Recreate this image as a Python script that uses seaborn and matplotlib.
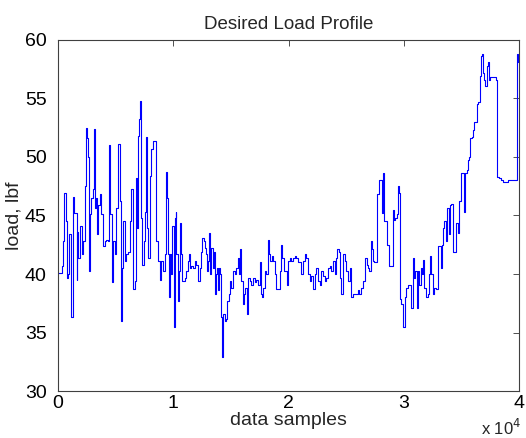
"""Desired load profile (step trace) recreated with seaborn."""
import matplotlib

matplotlib.use("Agg")
import matplotlib.pyplot as plt
import pandas as pd
import seaborn as sns
from matplotlib.ticker import FixedLocator, FuncFormatter

# sample index where each load step starts
samples = [
    0, 317, 404, 520, 664, 751, 895, 981, 1097, 1270, 1328, 1415, 1617, 1674, 1761,
    1905, 2050, 2194, 2338, 2425, 2483, 2569, 2627, 2714, 2771, 2916, 3060, 3147,
    3204, 3349, 3407, 3493, 3637, 3782, 3926, 4071, 4215, 4359, 4446, 4561, 4706,
    4792, 4937, 5081, 5225, 5370, 5456, 5572, 5659, 5803, 5947, 6091, 6236, 6380,
    6525, 6669, 6755, 6871, 6958, 7044, 7131, 7246, 7333, 7448, 7535, 7622, 7737,
    7824, 7968, 8113, 8257, 8488, 8546, 8690, 8834, 8979, 9123, 9267, 9412, 9498,
    9556, 9643, 9758, 9845, 9932, 10047, 10134, 10221, 10278, 10423, 10509, 10567,
    10711, 10798, 10999, 11144, 11288, 11375, 11490, 11577, 11721, 11866, 12010,
    12154, 12299, 12443, 12530, 12645, 12761, 12876, 12934, 13021, 13107,
    13163, 13307, 13452, 13510, 13596, 13683, 13798, 13885, 13971, 14087, 14174,
    14260, 14318, 14462, 14607, 14693, 14837, 14895, 15040, 15184, 15328, 15473,
    15617, 15704, 15761, 15906, 16050, 16137, 16252, 16397, 16483, 16628, 16772,
    16916, 17061, 17205, 17349, 17494, 17580, 17667, 17782, 17927, 18071, 18215,
    18302, 18417, 18562, 18648, 18793, 18937, 19081, 19226, 19370, 19457, 19572,
    19745, 19861, 19948, 20092, 20236, 20381, 20525, 20669, 20814, 20958, 21102,
    21247, 21391, 21535, 21680, 21824, 21969, 22113, 22257, 22402, 22546, 22690,
    22835, 22979, 23123, 23268, 23412, 23556, 23701, 23845, 23989, 24134, 24220,
    24365, 24480, 24567, 24711, 24856, 25000, 25144, 25289, 25433, 25577, 25722,
    25866, 26010, 26155, 26299, 26443, 26588, 26674, 26790, 26905,
    27019, 27163, 27250, 27366, 27452, 27654, 27741, 27885, 28030, 28116, 28174,
    28261, 28405, 28520, 28694, 28896, 29040, 29184, 29271, 29386, 29473, 29560,
    29675, 29791, 29906, 29964, 30079, 30195, 30339, 30484, 30628, 30772, 30830,
    30917, 31003, 31119, 31234, 31350, 31494, 31581, 31696, 31783, 31927, 32071,
    32216, 32274, 32389, 32504, 32649, 32793, 32937, 33082, 33226, 33313, 33371,
    33515, 33659, 33746, 33890, 34006, 34121, 34237, 34381, 34525, 34670, 34814,
    34958, 35103, 35247, 35334, 35449, 35593, 35680, 35767, 35882, 35969, 36113,
    36258, 36344, 36460, 36604, 36720, 36777, 36864, 36979, 37066, 37210, 37326,
    37412, 37499, 37701, 37990, 38047, 38221, 38423, 38625, 38798, 39000, 39289,
    39578, 39722, 39780, 39837, 39924, 40000,
]

load_lbf = [
    40.1, 40.7, 42.8, 46.9, 44.5, 39.7, 40.0, 43.4, 36.3, 40.5, 46.6, 45.2, 39.5, 43.6, 41.4,
    44.1, 41.7, 42.8, 47.5, 49.3, 52.5, 51.6, 50.0, 40.3, 45.1, 46.5, 47.3, 52.4,
    45.6, 46.5, 43.4, 45.9, 46.8, 45.1, 42.4, 42.8, 42.9, 42.8, 51.0, 45.1, 39.3,
    42.8, 41.7, 45.6, 51.1, 46.2, 36.0, 40.5, 44.5, 41.1, 41.7, 41.9, 44.5, 47.3,
    38.7, 39.4, 48.2, 43.9, 51.8, 53.2, 54.8, 44.8, 40.8, 42.8, 45.3, 51.7, 43.9,
    41.4, 48.4, 50.7, 51.4, 51.4, 42.8, 41.1, 39.5, 41.1, 40.3, 41.7, 48.7, 46.5,
    41.7, 38.0, 41.7, 40.0, 44.1, 35.5, 44.8, 45.3, 41.7, 37.7, 40.3, 44.4,
    41.7, 39.4, 39.7, 40.3, 41.1, 41.7, 40.5, 40.7, 40.5, 41.1, 40.8,
    39.4, 40.5, 41.9, 43.1, 42.8, 42.2, 41.7, 40.3, 41.1, 43.5,
    40.0, 42.2, 40.5, 41.9, 38.3, 40.0, 40.5, 38.6, 40.5, 40.0, 36.3,
    32.9, 36.6, 36.0, 36.2, 37.7, 38.3, 39.4, 38.8, 40.3, 40.0, 40.5,
    41.4, 40.0, 42.1, 39.4, 37.4, 38.3, 38.8, 36.6, 39.7, 39.4, 39.1,
    39.7, 39.3, 39.5, 39.1, 41.0, 38.3, 38.0, 38.8, 40.3, 40.0, 42.9,
    41.7, 41.1, 41.5, 41.1, 40.0, 38.7, 38.7, 40.3, 42.5, 41.4, 40.3,
    40.3, 39.1, 41.1, 41.4, 41.1, 41.4, 41.5, 41.4, 41.0, 41.0, 40.0,
    41.1, 41.7, 41.4, 40.0, 39.4, 39.8, 38.7, 40.0, 40.5, 39.4, 39.1,
    40.3, 39.8, 39.4, 39.7, 40.5, 40.7, 40.3, 41.1, 40.0, 41.4, 42.1,
    41.9, 39.7, 38.3, 41.7, 41.1, 40.3, 39.4, 40.5, 38.0, 38.3, 38.3,
    38.3, 38.6, 38.3, 38.8, 39.4, 39.4, 41.4, 40.8, 40.5,
    40.3, 42.8, 42.1, 41.1, 41.0, 46.8, 46.8, 48.0, 48.0, 45.2, 48.6,
    44.5, 44.5, 42.5, 40.7, 40.7, 45.5, 44.6, 44.8, 45.1, 47.5, 46.9,
    37.9, 37.4, 36.6, 35.5, 38.0, 38.8, 39.1, 39.1, 37.1, 40.0, 41.4,
    39.7, 40.3, 37.1, 40.3, 39.1, 40.5, 40.0, 41.2, 38.8, 38.0, 38.3,
    40.0, 41.5, 40.0, 38.3, 38.8, 38.7, 42.4, 42.4, 40.5, 42.5, 43.9,
    44.5, 42.8, 45.6, 43.4, 45.9, 46.0, 41.9, 41.9, 44.4, 43.5, 46.2,
    48.6, 48.6, 45.3, 48.6, 48.9, 49.7, 50.0, 51.6, 51.7, 52.3, 53.0,
    53.0, 54.5, 54.7, 56.9, 58.6, 58.8, 57.2, 56.6, 56.1, 57.8, 58.1,
    56.6, 56.8, 56.8, 56.6, 48.3, 48.2, 48.0, 47.9, 47.9, 48.0, 48.0,
    48.0, 48.0, 50.0, 58.8, 58.1, 58.1,
]

x_ticks = [0, 10000, 20000, 30000, 40000]
y_ticks = [30, 35, 40, 45, 50, 55, 60]

sns.set_style("white")
plt.rcParams["font.family"] = ["Liberation Sans", "DejaVu Sans"]

df = pd.DataFrame({"sample": samples, "load": load_lbf})

fig = plt.figure(figsize=(5.26, 4.38), dpi=100)
ax = fig.add_axes([0.110, 0.107, 0.877, 0.802])

sns.lineplot(data=df, x="sample", y="load", ax=ax, estimator=None, sort=False,
             drawstyle="steps-post", color="#0000ff", linewidth=0.8)

ax.set_xlim(0, 40000)
ax.set_ylim(30, 60)
ax.xaxis.set_major_locator(FixedLocator(x_ticks))
ax.xaxis.set_major_formatter(FuncFormatter(lambda v, _: f"{v / 1e4:g}"))
ax.yaxis.set_major_locator(FixedLocator(y_ticks))
ax.tick_params(direction="in", length=4, width=0.6, top=True, right=True,
               labelsize=14, colors="#333333", labelcolor="black")
ax.tick_params(axis="x", pad=3)
ax.tick_params(axis="y", pad=8)
for sp in ax.spines.values():
    sp.set_linewidth(0.8)
    sp.set_color("#404040")

ax.set_title("Desired Load Profile", fontsize=13.5, pad=8)
ax.set_xlabel("data samples", fontsize=14, labelpad=0)
ax.set_ylabel("load, lbf", fontsize=14, labelpad=2)
ax.text(1.005, -0.075, r"x 10$^4$", transform=ax.transAxes, ha="right", va="top",
        fontsize=12)

fig.savefig("out.png", dpi=100)
